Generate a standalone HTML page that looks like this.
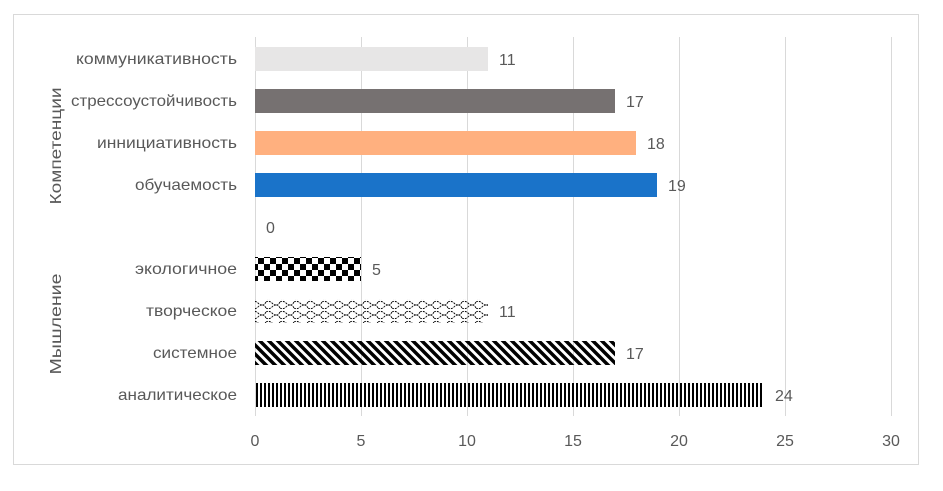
<!DOCTYPE html>
<html><head><meta charset="utf-8"><style>
body{margin:0;background:#fff;}
text{font-family:"Liberation Sans",sans-serif;fill:#595959;}
</style></head><body>
<svg width="943" height="486" xmlns="http://www.w3.org/2000/svg">
<defs>
<pattern id="vs" width="4" height="4" patternUnits="userSpaceOnUse"><rect width="2" height="4" fill="#000"/></pattern>
<pattern id="ds" width="9" height="9" patternUnits="userSpaceOnUse"><path d="M-2,-2 L11,11 M-11,-2 L2,11 M7,-2 L20,11" stroke="#000" stroke-width="3.5"/></pattern>
<pattern id="ck" width="12" height="12" patternUnits="userSpaceOnUse"><rect width="6" height="6" fill="#000"/><rect x="6" y="6" width="6" height="6" fill="#000"/></pattern>
<pattern id="wv" width="14" height="10" patternUnits="userSpaceOnUse"><path d="M0,2 Q3.5,0 7,4 T14,2 M0,8 Q3.5,10 7,6 T14,8" stroke="#000" stroke-width="0.9" fill="none" stroke-dasharray="2,1"/></pattern>
</defs>
<rect x="13.5" y="14.5" width="905" height="450" fill="#fff" stroke="#d9d9d9"/>
<g stroke="#d9d9d9" stroke-width="1">
<line x1="361.5" y1="37" x2="361.5" y2="416"/>
<line x1="467.5" y1="37" x2="467.5" y2="416"/>
<line x1="573.5" y1="37" x2="573.5" y2="416"/>
<line x1="679.5" y1="37" x2="679.5" y2="416"/>
<line x1="785.5" y1="37" x2="785.5" y2="416"/>
<line x1="891.5" y1="37" x2="891.5" y2="416"/>
<line x1="255.5" y1="37" x2="255.5" y2="416"/>
</g>
<rect x="255" y="47" width="233" height="24" fill="#e7e6e6"/>
<rect x="255" y="89" width="360" height="24" fill="#767171"/>
<rect x="255" y="131" width="381" height="24" fill="#ffb07f"/>
<rect x="255" y="173" width="402" height="24" fill="#1a73c9"/>
<rect x="255" y="257" width="106" height="24" fill="url(#ck)"/>
<rect x="255" y="299" width="233" height="24" fill="url(#wv)"/>
<rect x="255" y="341" width="360" height="24" fill="url(#ds)"/>
<rect x="255" y="383" width="509" height="24" fill="url(#vs)"/>
<g font-size="16">
<text x="499" y="65">11</text>
<text x="626" y="107">17</text>
<text x="647" y="149">18</text>
<text x="668" y="191">19</text>
<text x="266" y="233">0</text>
<text x="372" y="275">5</text>
<text x="499" y="317">11</text>
<text x="626" y="359">17</text>
<text x="775" y="401">24</text>
</g>
<g font-size="16" text-anchor="end" lengthAdjust="spacingAndGlyphs">
<text x="237" y="64" textLength="161" lengthAdjust="spacingAndGlyphs">коммуникативность</text>
<text x="237" y="106" textLength="166" lengthAdjust="spacingAndGlyphs">стрессоустойчивость</text>
<text x="237" y="148" textLength="140" lengthAdjust="spacingAndGlyphs">иннициативность</text>
<text x="237" y="190" textLength="102" lengthAdjust="spacingAndGlyphs">обучаемость</text>
<text x="237" y="274" textLength="102" lengthAdjust="spacingAndGlyphs">экологичное</text>
<text x="237" y="316" textLength="91" lengthAdjust="spacingAndGlyphs">творческое</text>
<text x="237" y="358" textLength="84" lengthAdjust="spacingAndGlyphs">системное</text>
<text x="237" y="400" textLength="119" lengthAdjust="spacingAndGlyphs">аналитическое</text>
</g>
<g font-size="16" text-anchor="middle">
<text x="255" y="446">0</text><text x="361" y="446">5</text><text x="467" y="446">10</text>
<text x="573" y="446">15</text><text x="679" y="446">20</text><text x="785" y="446">25</text><text x="891" y="446">30</text>
<text transform="translate(61,146) rotate(-90)" textLength="117" lengthAdjust="spacingAndGlyphs">Компетенции</text>
<text transform="translate(61,324) rotate(-90)" textLength="101" lengthAdjust="spacingAndGlyphs">Мышление</text>
</g>
</svg>
</body></html>
